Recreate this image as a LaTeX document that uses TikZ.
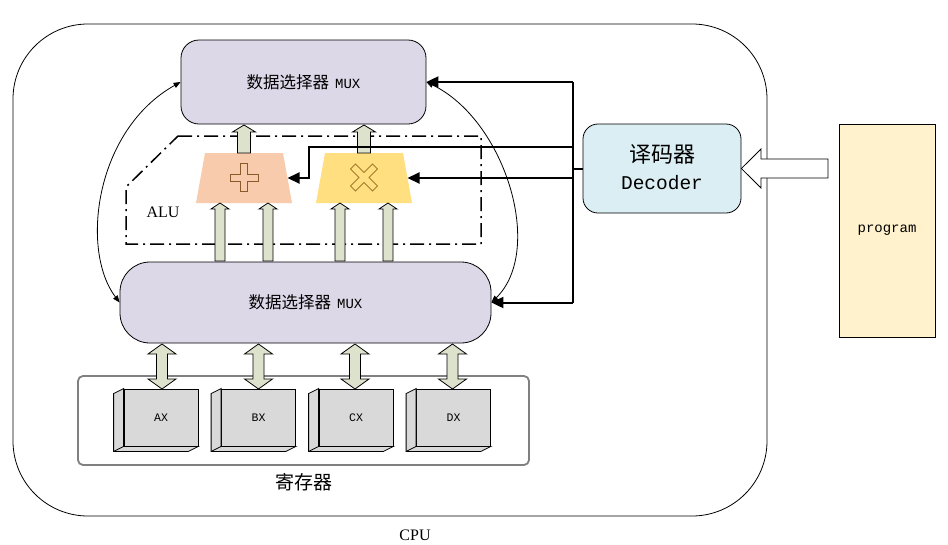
\documentclass[tikz,border=0pt]{standalone}
\usepackage{fontspec}
\setmainfont{Liberation Serif}
\newfontfamily\cjk{Noto Sans CJK SC}
\newfontfamily\mono{Liberation Mono}
\usetikzlibrary{arrows.meta,calc}
\definecolor{muxfill}{HTML}{DDD8E8}
\definecolor{addfill}{HTML}{F8CBAD}
\definecolor{mulfill}{HTML}{FFDF80}
\definecolor{arrfill}{HTML}{DDE2CC}
\definecolor{regfill}{HTML}{D9D9D9}
\definecolor{decfill}{HTML}{DAEEF3}
\definecolor{progfill}{HTML}{FFF2CC}
\definecolor{plusbrown}{HTML}{8B5A2B}
\definecolor{xgold}{HTML}{A67C2E}
\definecolor{regborder}{HTML}{808080}
\newcommand\myfs[1]{\fontsize{#1pt}{#1pt}\selectfont}
\newcommand\uparr[6]{\draw[blk] (#1-#4,#2) -- (#1-#4,#3+#6) -- (#1-#5,#3+#6) -- (#1,#3) -- (#1+#5,#3+#6) -- (#1+#4,#3+#6) -- (#1+#4,#2) -- cycle;}
\newcommand\bidir[1]{\draw[blk] (#1,344) -- (#1+14,354) -- (#1+5.5,354) -- (#1+5.5,379) -- (#1+14,379) -- (#1,389) -- (#1-14,379) -- (#1-5.5,379) -- (#1-5.5,354) -- (#1-14,354) -- cycle;}
\newcommand\regside[1]{%
  \filldraw[regsd] (#1.north west) -- ++(-10,5) -- ([shift={(-10,5)}]#1.south west) -- ([shift={(-10,5)}]#1.south east) -- (#1.south east) -- (#1.south west) -- cycle;
  \draw[regsd] (#1.south west) -- ++(-10,5);}
\begin{document}
\begin{tikzpicture}[x=1pt,y=-1pt,
  mux/.style={draw, fill=muxfill, line width=0.8pt, inner sep=0pt},
  blk/.style={draw, fill=arrfill, line width=0.8pt, line join=miter},
  ctlline/.style={line width=2pt},
  ctlarrow/.style={line width=2pt, -{Triangle[length=12pt,width=11pt]}},
  thinarc/.style={line width=0.8pt, {Triangle[length=7pt,width=5.5pt]}-{Triangle[length=7pt,width=5.5pt]}},
  regf/.style={draw, fill=regfill, line width=0.8pt, minimum width=74pt, minimum height=57pt, inner sep=0pt, font=\mono\myfs{11.5}},
  regsd/.style={draw, fill=regfill, line width=0.8pt, line join=miter},
  alubox/.style={line width=1.5pt, dash pattern=on 14pt off 5pt on 2pt off 5pt}
]
\useasboundingbox (0,0) rectangle (948,544);

% CPU frame
\node[draw, rounded corners=75pt, minimum width=754pt, minimum height=492pt, line width=0.8pt, inner sep=0pt] (cpu) at (390,270) {};
\node (cpulbl) at (415,535) {\myfs{16}CPU};

% ALU box
\draw[alubox] (178,136) -- (481,136) -- (481,244) -- (126,244) -- (126,187) -- cycle;
\node (alulbl) at (163,212) {\myfs{16}ALU};

% MUXes
\node[mux, rounded corners=18pt, minimum width=245pt, minimum height=84pt] (tmux) at (303.5,82) {{\cjk\myfs{16.5}数据选择器}\hspace{6pt}{\mono\myfs{14}MUX}};
\node[mux, rounded corners=30pt, minimum width=371pt, minimum height=81pt] (bmux) at (305.5,302.5) {{\cjk\myfs{16.5}数据选择器}\hspace{6pt}{\mono\myfs{14}MUX}};

% ALU units
\fill[addfill] (205,153) -- (283,153) -- (292,203) -- (196,203) -- cycle;
\fill[mulfill] (325,153) -- (403,153) -- (412,203) -- (316,203) -- cycle;
\coordinate (addR) at (287.5,178);
\coordinate (mulR) at (407.5,178);
\begin{scope}[shift={(244,177.5)}]
\draw[plusbrown, line width=0.9pt] (3.5,14) -- (3.5,3.5) -- (14,3.5) -- (14,-3.5) -- (3.5,-3.5) -- (3.5,-14) -- (-3.5,-14) -- (-3.5,-3.5) -- (-14,-3.5) -- (-14,3.5) -- (-3.5,3.5) -- (-3.5,14) -- cycle;
\end{scope}
\begin{scope}[shift={(364,177.5)}, rotate=45]
\draw[xgold, line width=0.9pt] (3.5,15.5) -- (3.5,3.5) -- (15.5,3.5) -- (15.5,-3.5) -- (3.5,-3.5) -- (3.5,-15.5) -- (-3.5,-15.5) -- (-3.5,-3.5) -- (-15.5,-3.5) -- (-15.5,3.5) -- (-3.5,3.5) -- (-3.5,15.5) -- cycle;
\end{scope}

% block arrows
\uparr{244}{153}{125}{6.5}{11.5}{7}
\uparr{364}{153}{125}{6.5}{11.5}{7}
\uparr{220}{261}{203}{5}{9}{6}
\uparr{268}{261}{203}{5}{9}{6}
\uparr{340}{261}{203}{5}{9}{6}
\uparr{388}{261}{203}{5}{9}{6}

% registers
\node[draw=regborder, line width=1.8pt, rounded corners=5pt, minimum width=451pt, minimum height=89pt, inner sep=0pt] (regs) at (303.5,420.5) {};
\node (regslbl) at (304,482) {\cjk\myfs{19}寄存器};
\node[regf] (ax) at (161,417.5) {AX};
\node[regf] (bx) at (258.5,417.5) {BX};
\node[regf] (cx) at (356,417.5) {CX};
\node[regf] (dx) at (453.5,417.5) {DX};
\regside{ax}\regside{bx}\regside{cx}\regside{dx}
\bidir{162}
\bidir{258.5}
\bidir{355}
\bidir{452.5}

% decoder and program
\node[draw, fill=decfill, rounded corners=15pt, minimum width=158pt, minimum height=89pt, line width=0.8pt, inner sep=0pt] (dec) at (662,168.5) {};
\node (dect1) at ($(dec.center)+(0,-14)$) {\cjk\myfs{22}译码器};
\node (dect2) at ($(dec.center)+(0,14.5)$) {\mono\myfs{19.5}Decoder};
\node[draw, fill=progfill, minimum width=96pt, minimum height=213pt, line width=0.8pt, inner sep=0pt] (prog) at (887,230.5) {\mono\myfs{14}program};
\coordinate (tail) at (828,168.5);
\draw[fill=white, line width=0.8pt, line join=miter] (tail |- 0,159) -- (761,159) -- (761,149) -- (dec.east) -- (761,188) -- (761,178) -- (tail |- 0,178) -- cycle;

% control lines
\coordinate (jn) at (573,168.5);
\draw[ctlline] (dec.west) -- (jn);
\draw[ctlline] (tmux.east -| jn) -- (bmux.east -| jn);
\draw[ctlarrow] (tmux.east -| jn) -- (tmux.east);
\draw[ctlarrow] (bmux.east -| jn) -- (bmux.east);
\draw[ctlarrow] (jn |- 0,147) -- (309,147) -- (309,178) -- (addR);
\draw[ctlarrow] (jn |- 0,178) -- (mulR);

% feedback arcs
\draw[thinarc] (tmux.west) .. controls (95,130) and (80,250) .. (bmux.west);
\draw[thinarc] (tmux.east) .. controls (505,120) and (545,250) .. (bmux.east);
\end{tikzpicture}
\end{document}
